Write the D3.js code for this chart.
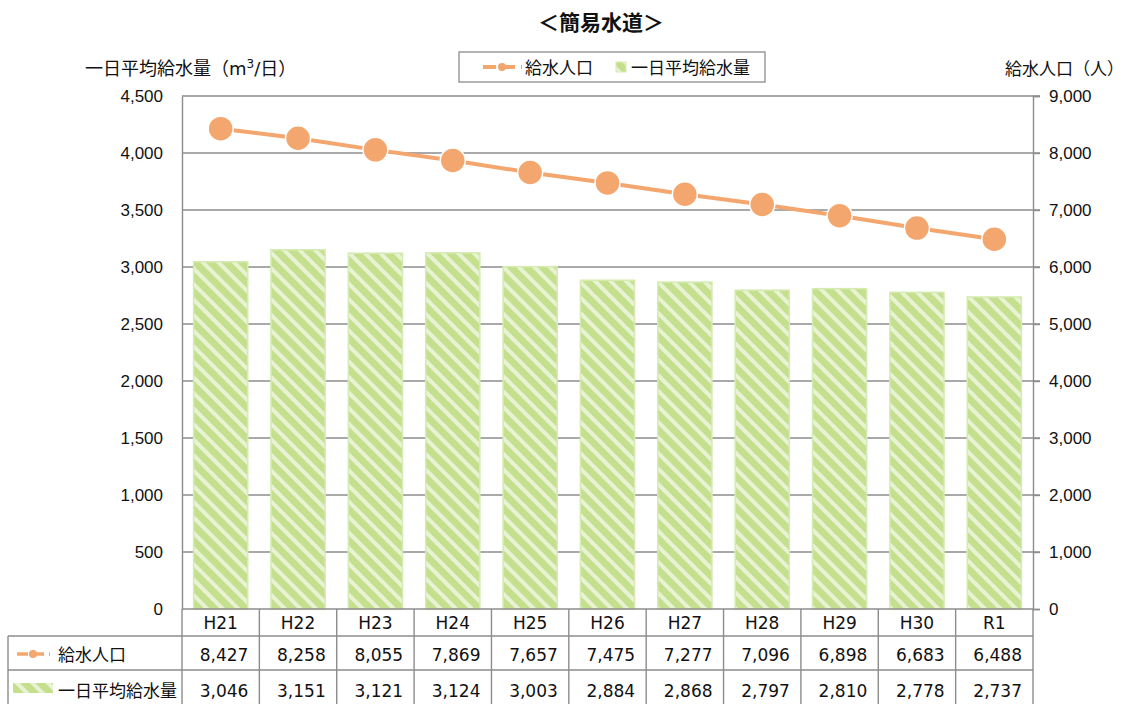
<!DOCTYPE html>
<html>
<head>
<meta charset="utf-8">
<script src="https://cdn.jsdelivr.net/npm/d3@7"></script>
<style>
  body { margin: 0; background: #fff; }
  svg { font-family: "DejaVu Sans", "Noto Sans CJK JP", sans-serif; }
</style>
</head>
<body>
<div id="chart"></div>
<script>
// Data
const years = ["H21", "H22", "H23", "H24", "H25", "H26", "H27", "H28", "H29", "H30", "R1"];
const population = [8427, 8258, 8055, 7869, 7657, 7475, 7277, 7096, 6898, 6683, 6488];
const dailyVolume = [3046, 3151, 3121, 3124, 3003, 2884, 2868, 2797, 2810, 2778, 2737];
const leftTicks = [0, 500, 1000, 1500, 2000, 2500, 3000, 3500, 4000, 4500];
const rightTicks = [0, 1000, 2000, 3000, 4000, 5000, 6000, 7000, 8000, 9000];

const W = 1128, H = 704;
const plot = { left: 182, right: 1033, top: 96, bottom: 609 };
const rowTops = [609, 636, 670, 706];

const orange = "#f4a66f";
const green = "#c4df8e";
const gridColor = "#8c8c8c";
const numSize = 17;
const fmt = d3.format(",");

const svg = d3.select("#chart")
  .append("svg")
    .attr("width", W)
    .attr("height", H);

// diagonal stripe pattern for bars
const defs = svg.append("defs");
const pat = defs.append("pattern")
  .attr("id", "stripes")
  .attr("patternUnits", "userSpaceOnUse")
  .attr("width", 11)
  .attr("height", 11)
  .attr("patternTransform", "rotate(-45)");
pat.append("rect").attr("width", 11).attr("height", 11).attr("fill", green);
pat.append("rect").attr("x", 0).attr("width", 4).attr("height", 11).attr("fill", "#e8f3d4");

// Scales
const xCol = d3.scaleBand().domain(years).range([plot.left, plot.right]).padding(0);
const barW = xCol.bandwidth() * 0.7;
const yL = d3.scaleLinear().domain([0, 4500]).range([plot.bottom, plot.top]);
const yR = d3.scaleLinear().domain([0, 9000]).range([plot.bottom, plot.top]);

// Gridlines (extend to the right tick marks)
svg.append("g")
  .selectAll("line")
  .data(leftTicks.slice(1))
  .join("line")
    .attr("x1", plot.left)
    .attr("x2", plot.right + 7)
    .attr("y1", d => yL(d))
    .attr("y2", d => yL(d))
    .attr("stroke", gridColor)
    .attr("stroke-width", 1.4);

// Left axis
const leftAxis = svg.append("g")
  .attr("transform", `translate(${plot.left},0)`)
  .call(d3.axisLeft(yL).tickValues(leftTicks).tickSize(0).tickPadding(19).tickFormat(fmt));
leftAxis.select(".domain").attr("stroke", gridColor).attr("stroke-width", 1.4);
leftAxis.selectAll("text").attr("font-size", numSize).attr("fill", "#111").style("font-family", "inherit");

// Right axis
const rightAxis = svg.append("g")
  .attr("transform", `translate(${plot.right},0)`)
  .call(d3.axisRight(yR).tickValues(rightTicks).tickSize(7).tickPadding(9).tickFormat(fmt));
rightAxis.select(".domain").attr("stroke", gridColor).attr("stroke-width", 1.4);
rightAxis.selectAll(".tick line").attr("stroke", gridColor).attr("stroke-width", 1.4);
rightAxis.selectAll("text").attr("font-size", numSize).attr("fill", "#111").style("font-family", "inherit");

// Bars
svg.append("g")
  .selectAll("rect")
  .data(dailyVolume)
  .join("rect")
    .attr("x", (d, i) => xCol(years[i]) + (xCol.bandwidth() - barW) / 2)
    .attr("y", d => yL(d))
    .attr("width", barW)
    .attr("height", d => yL(0) - yL(d))
    .attr("fill", "url(#stripes)")
    .attr("stroke", "#d5ebb1")
    .attr("stroke-width", 1.5);

// Population line
const line = d3.line()
  .x((d, i) => xCol(years[i]) + xCol.bandwidth() / 2)
  .y(d => yR(d));
svg.append("path")
  .datum(population)
  .attr("d", line)
  .attr("fill", "none")
  .attr("stroke", orange)
  .attr("stroke-width", 4);
svg.append("g")
  .selectAll("circle")
  .data(population)
  .join("circle")
    .attr("cx", (d, i) => xCol(years[i]) + xCol.bandwidth() / 2)
    .attr("cy", d => yR(d))
    .attr("r", 12.5)
    .attr("fill", orange)
    .attr("stroke", "#fff")
    .attr("stroke-width", 1.5);

// Title and axis titles
svg.append("text")
  .attr("x", 601).attr("y", 30)
  .attr("text-anchor", "middle")
  .attr("font-size", 21).attr("font-weight", "bold")
  .attr("fill", "#111")
  .text("＜簡易水道＞");

const leftTitle = svg.append("text")
  .attr("x", 85).attr("y", 75)
  .attr("font-size", 18).attr("fill", "#111");
leftTitle.append("tspan").text("一日平均給水量（m");
leftTitle.append("tspan").attr("font-size", 12).attr("dy", -7).text("3");
leftTitle.append("tspan").attr("dy", 7).text("/日）");

svg.append("text")
  .attr("x", 1124).attr("y", 75)
  .attr("text-anchor", "end")
  .attr("font-size", 17).attr("fill", "#111")
  .text("給水人口（人）");

// Legend
const lg = svg.append("g");
lg.append("rect")
  .attr("x", 459).attr("y", 52).attr("width", 306).attr("height", 30)
  .attr("fill", "#fff").attr("stroke", "#8c8c8c").attr("stroke-width", 1.3);
lg.append("line")
  .attr("x1", 483).attr("x2", 522).attr("y1", 67).attr("y2", 67)
  .attr("stroke", orange).attr("stroke-width", 4).attr("stroke-dasharray", "13,6");
lg.append("circle").attr("cx", 502).attr("cy", 67).attr("r", 4).attr("fill", orange);
lg.append("text").attr("x", 525).attr("y", 74).attr("font-size", 17).attr("fill", "#111").text("給水人口");
lg.append("rect").attr("x", 616).attr("y", 62).attr("width", 10).attr("height", 10)
  .attr("fill", "url(#stripes)").attr("stroke", "#d5ebb1");
lg.append("text").attr("x", 631).attr("y", 74).attr("font-size", 17).attr("fill", "#111").text("一日平均給水量");

// Data table
const table = svg.append("g");
const borderColor = "#8c8c8c";

// horizontal lines
table.append("line")
  .attr("x1", plot.left).attr("x2", plot.right)
  .attr("y1", rowTops[0]).attr("y2", rowTops[0])
  .attr("stroke", borderColor).attr("stroke-width", 1.4);
[rowTops[1], rowTops[2]].forEach(y => {
  table.append("line")
    .attr("x1", 8).attr("x2", plot.right)
    .attr("y1", y).attr("y2", y)
    .attr("stroke", borderColor).attr("stroke-width", 1.4);
});
// vertical lines
table.append("line")
  .attr("x1", 8).attr("x2", 8)
  .attr("y1", rowTops[1]).attr("y2", rowTops[3])
  .attr("stroke", borderColor).attr("stroke-width", 1.4);
table.selectAll(".vline")
  .data(years)
  .join("line")
    .attr("class", "vline")
    .attr("x1", d => xCol(d)).attr("x2", d => xCol(d))
    .attr("y1", rowTops[0]).attr("y2", rowTops[3])
    .attr("stroke", borderColor).attr("stroke-width", 1.4);
table.append("line")
  .attr("x1", plot.right).attr("x2", plot.right)
  .attr("y1", rowTops[0]).attr("y2", rowTops[3])
  .attr("stroke", borderColor).attr("stroke-width", 1.4);

// header row
table.selectAll(".hdr")
  .data(years)
  .join("text")
    .attr("class", "hdr")
    .attr("x", d => xCol(d) + xCol.bandwidth() / 2)
    .attr("y", 629)
    .attr("text-anchor", "middle")
    .attr("font-size", numSize).attr("fill", "#111")
    .text(d => d);

// population row
table.selectAll(".pop")
  .data(population)
  .join("text")
    .attr("class", "pop")
    .attr("x", (d, i) => xCol(years[i]) + xCol.bandwidth() - 11)
    .attr("y", 661)
    .attr("text-anchor", "end")
    .attr("font-size", numSize).attr("fill", "#111")
    .text(d => fmt(d));

// volume row
table.selectAll(".vol")
  .data(dailyVolume)
  .join("text")
    .attr("class", "vol")
    .attr("x", (d, i) => xCol(years[i]) + xCol.bandwidth() - 11)
    .attr("y", 697)
    .attr("text-anchor", "end")
    .attr("font-size", numSize).attr("fill", "#111")
    .text(d => fmt(d));

// row labels with legend keys
table.append("line")
  .attr("x1", 17).attr("x2", 50).attr("y1", 654).attr("y2", 654)
  .attr("stroke", orange).attr("stroke-width", 3.5).attr("stroke-dasharray", "11,5");
table.append("circle").attr("cx", 33).attr("cy", 654).attr("r", 4).attr("fill", orange);
table.append("text").attr("x", 58).attr("y", 661).attr("font-size", 17).attr("fill", "#111").text("給水人口");

table.append("rect").attr("x", 13).attr("y", 683).attr("width", 40).attr("height", 10)
  .attr("fill", "url(#stripes)");
table.append("text").attr("x", 58).attr("y", 697).attr("font-size", 17).attr("fill", "#111").text("一日平均給水量");
</script>
</body>
</html>
